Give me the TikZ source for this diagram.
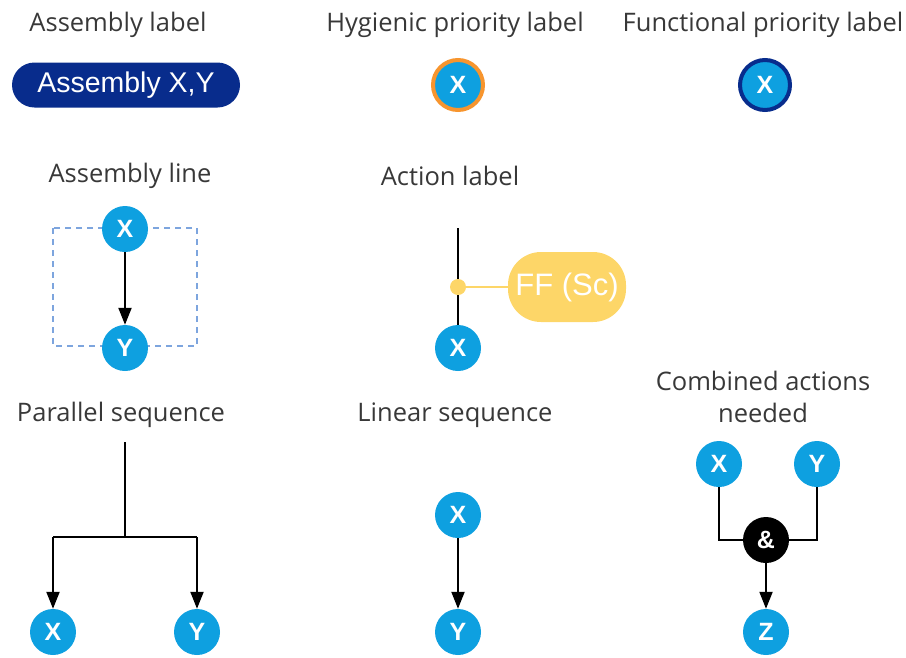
\documentclass[tikz,border=0pt]{standalone}
\usepackage{fontspec}
\setmainfont{Open Sans}
\newfontfamily\labelfont{Liberation Sans}
\usetikzlibrary{arrows.meta,positioning}
\definecolor{stepblue}{RGB}{14,160,224}
\definecolor{navy}{RGB}{8,44,140}
\definecolor{prioorange}{RGB}{247,149,46}
\definecolor{actyellow}{RGB}{253,214,104}
\definecolor{boxblue}{RGB}{125,165,222}
\tikzset{
  title/.style={font=\fontsize{25.5}{32}\selectfont, text=black!78, align=center},
  act/.style={circle, fill=stepblue, minimum size=46pt, inner sep=0pt, text=white,
    font=\labelfont\bfseries\fontsize{25}{25}\selectfont},
  flow/.style={line width=2pt, black},
  tip/.style={-{Triangle[width=13pt,length=17pt]}}
}
\begin{document}
\begin{tikzpicture}[x=1pt,y=-1pt]
\useasboundingbox (0,0) rectangle (906,657);
% Titel der Felder
\node[title] (tasm)  at (118,25)  {Assembly label};
\node[title] (thyg)  at (455,25)  {Hygienic priority label};
\node[title] (tfun)  at (763,25)  {Functional priority label};
\node[title] (tline) at (130,176) {Assembly line};
\node[title] (tact)  at (450,176) {Action label};
\node[title] (tpar)  at (121,415) {Parallel sequence};
\node[title] (tlin)  at (455,415) {Linear sequence};
\node[title] (tcomb) at (763,397) {Combined actions\\needed};

% Assembly label
\node[rectangle, rounded corners=22.5pt, fill=navy, minimum width=228pt, minimum height=45pt,
  text=white, font=\labelfont\fontsize{28.5}{28.5}\selectfont] (asm) at (126,85) {Assembly X,Y};

% Prioritaeten
\node[act, draw=prioorange, line width=4pt, minimum size=50pt] (hyg) at (458,85) {X};
\node[act, draw=navy, line width=4pt, minimum size=50pt] (fun) at (765,85) {X};

% Assembly line
\draw[boxblue, line width=1.6pt, dash pattern=on 6pt off 5pt] (53,228) rectangle (197,346);
\node[act] (lx) at (125,229) {X};
\node[act] (ly) at (125,348) {Y};
\draw[flow,tip] (lx) -- (ly);

% Action label
\coordinate (atop) at (458,228);
\node[act] (ax) at (458,348) {X};
\draw[flow] (atop) -- (ax);
\node[rectangle, rounded corners=33pt, fill=actyellow, minimum width=118pt, minimum height=70pt,
  text=white, font=\labelfont\fontsize{31}{31}\selectfont, inner xsep=4pt] (ff) at (567,287) {FF (Sc)};
\node[circle, fill=actyellow, minimum size=16pt, inner sep=0pt] (adot) at (458,287) {};
\draw[actyellow, line width=2pt] (adot) -- (ff);

% Parallel sequence
\coordinate (ptop) at (125,442);
\coordinate (psplit) at (125,537);
\node[act] (px) at (53,632) {X};
\node[act] (py) at (197,632) {Y};
\draw[flow] (ptop) -- (psplit);
\draw[flow] (53,537) -- (197,537);
\foreach \n in {px,py}
  \draw[flow,tip] (psplit -| \n) -- (\n);

% Linear sequence
\node[act] (sx) at (458,515) {X};
\node[act] (sy) at (458,632) {Y};
\draw[flow,tip] (sx) -- (sy);

% Combined actions
\node[act] (cx) at (719,464) {X};
\node[act] (cy) at (817,464) {Y};
\node[act, fill=black] (amp) at (766,540) {\&};
\node[act] (cz) at (766,632) {Z};
\draw[flow] (cx) |- (amp);
\draw[flow] (cy) |- (amp);
\draw[flow,tip] (amp) -- (cz);
\end{tikzpicture}
\end{document}
